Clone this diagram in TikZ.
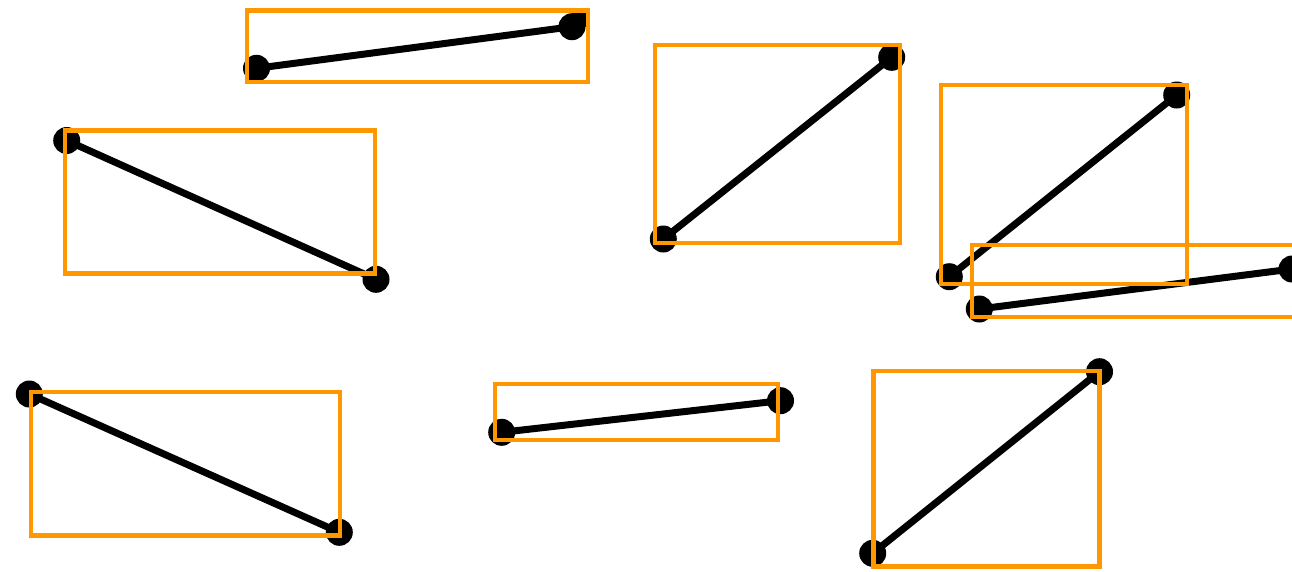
\documentclass[tikz,border=0pt]{standalone}
\definecolor{boxorange}{RGB}{255,152,0}
\tikzset{
  seg/.style={line width=7pt},
  bbox/.style={draw=boxorange, line width=4.5pt},
  dot/.style={circle, fill=black, inner sep=0pt, minimum size=27pt},
}
\begin{document}
\begin{tikzpicture}[x=1pt,y=-1pt]
\useasboundingbox (0,0) rectangle (1292,571);
\clip (0,0) rectangle (1292,571);
% endpoints
\coordinate (a1) at (256.5,68.3);  \coordinate (a2) at (572,26.7);
\coordinate (b1) at (66.7,140.5);  \coordinate (b2) at (376,279.3);
\coordinate (c1) at (663.3,239);   \coordinate (c2) at (891.7,57.3);
\coordinate (d1) at (949.3,276.7); \coordinate (d2) at (1176.7,95);
\coordinate (e1) at (979.3,309);   \coordinate (e2) at (1292,269);
\coordinate (f1) at (29.3,394);    \coordinate (f2) at (339.3,532.3);
\coordinate (g1) at (501.7,432.3); \coordinate (g2) at (780.5,400.7);
\coordinate (h1) at (872.7,553.3); \coordinate (h2) at (1099.5,371.7);
% boxes corners
\coordinate (A1) at (247,10.5);  \coordinate (A2) at (588,82);
\coordinate (B1) at (65,130.7);  \coordinate (B2) at (375,273.7);
\coordinate (C1) at (655,45);    \coordinate (C2) at (900,243);
\coordinate (D1) at (941,85);    \coordinate (D2) at (1187,284);
\coordinate (E1) at (972,245);   \coordinate (E2) at (1300,317);
\coordinate (F1) at (31,392);    \coordinate (F2) at (340,535.7);
\coordinate (G1) at (495,384);   \coordinate (G2) at (778,440);
\coordinate (H1) at (873.5,371); \coordinate (H2) at (1099.5,566.5);
% segments with endpoint markers
\foreach \s/\S/\ax/\ay/\bx/\by in {a/A/-1/1/1/-1, b/B/-1/-1/1/1, c/C/-1/1/1/-1,
    d/D/-1/1/1/-1, e/E/-1/1/1/-1, f/F/-1/-1/1/1, g/G/-1/1/1/-1, h/H/-1/1/1/-1}{
  \draw[seg] (\s1) -- (\s2);
  \node[dot] (\s1dot) at (\s1) {};
  \node[dot] (\s2dot) at (\s2) {};
  \begin{scope}
    \clip (\S1) rectangle (\S2);
    \fill (\s1) rectangle ++({13.5*\ax},{13.5*\ay});
    \fill (\s2) rectangle ++({13.5*\bx},{13.5*\by});
  \end{scope}
}
% orange boxes
\foreach \S in {A,B,C,D,E,F,G,H}{
  \draw[bbox] (\S1) rectangle (\S2);
}
\end{tikzpicture}
\end{document}
